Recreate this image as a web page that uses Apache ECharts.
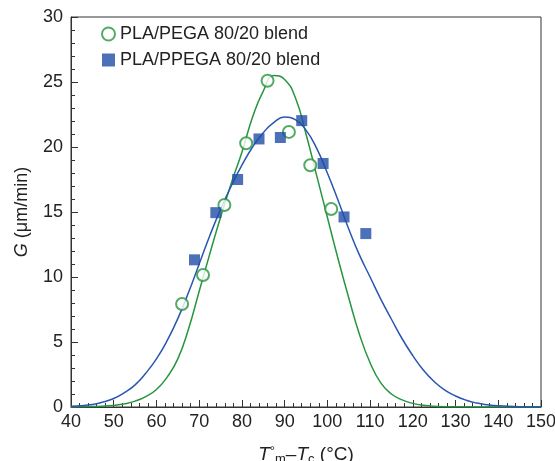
<!DOCTYPE html>
<html>
<head>
<meta charset="utf-8">
<script src="https://cdn.jsdelivr.net/npm/echarts@6/dist/echarts.min.js"></script>
<style>
html,body{margin:0;padding:0;background:#fff;}
#chart{width:555px;height:461px;}
</style>
</head>
<body>
<div id="chart"></div>
<script>
// Measured points
var pegaX = [66.0, 70.9, 75.9, 81.0, 86.0, 91.0, 96.0, 100.9];
var pegaY = [7.92, 10.15, 15.54, 20.29, 25.1, 21.16, 18.6, 15.23];
var ppegaX = [68.9, 73.9, 79.0, 84.0, 89.0, 94.0, 99.0, 103.9, 109.0];
var ppegaY = [11.32, 14.95, 17.5, 20.62, 20.73, 22.03, 18.73, 14.62, 13.34];

// Fitted curves
var pegaCurveX = [40, 45, 50, 52.5, 55, 57.5, 60, 62.5, 65, 67.5, 70, 72.5, 75, 77.5, 80, 82.5, 85, 87.5, 90, 92.5, 95, 97.5, 100, 102.5, 105, 107.5, 110, 112.5, 115, 117.5, 120, 122.5, 125, 130, 140, 150];
var pegaCurveY = [0, 0.03, 0.12, 0.24, 0.45, 0.8, 1.35, 2.3, 3.7, 6.0, 8.9, 11.8, 14.6, 17.2, 19.6, 22.3, 24.3, 25.5, 25.2, 23.8, 21.0, 17.8, 14.6, 11.4, 8.4, 5.6, 3.4, 1.85, 1.0, 0.55, 0.28, 0.13, 0.06, 0.01, 0, 0];
var ppegaCurveX = [40, 45, 47.5, 50, 52.5, 55, 57.5, 60, 62.5, 65, 67.5, 70, 72.5, 75, 77.5, 80, 82.5, 85, 87.5, 90, 92.5, 95, 97.5, 100, 102.5, 105, 107.5, 110, 112.5, 115, 117.5, 120, 122.5, 125, 127.5, 130, 132.5, 135, 137.5, 140, 145, 150];
var ppegaCurveY = [0.05, 0.2, 0.38, 0.65, 1.1, 1.7, 2.6, 3.7, 5.1, 6.8, 8.8, 11.0, 13.2, 15.2, 17.0, 18.6, 20.0, 21.1, 21.9, 22.3, 22.1, 21.3, 19.9, 18.0, 15.9, 13.7, 11.7, 10.0, 8.3, 6.75, 5.25, 3.95, 2.82, 1.95, 1.3, 0.85, 0.52, 0.3, 0.17, 0.09, 0.02, 0];

var seriesNames = ['PLA/PEGA 80/20 blend', 'PLA/PPEGA 80/20 blend'];
var xTitle = '{i|T}{sup|°}{sub|m}{n|–}{i|T}{sub|c}{n| (°C)}';
var yTitle = '{i|G}{n| (μm/min)}';

function zip(a, b) { return a.map(function (v, i) { return [v, b[i]]; }); }

var GREEN = '#27953f';
var BLUE = '#1f4ea6';
var BLUE_LINE = '#2856b0';
var FONT = 'Liberation Sans';

var chart = echarts.init(document.getElementById('chart'));
chart.setOption({
  animation: false,
  backgroundColor: '#fff',
  textStyle: { fontFamily: FONT },
  grid: {
    left: 71, right: 14, top: 17, bottom: 54,
    containLabel: false, outerBoundsMode: 'none',
    show: true, borderColor: '#333', borderWidth: 1
  },
  legend: {
    data: seriesNames,
    orient: 'vertical',
    left: 96, top: 20,
    itemWidth: 13, itemHeight: 13, itemGap: 8,
    textStyle: { fontFamily: FONT, fontSize: 18, color: '#222' }
  },
  xAxis: {
    type: 'value', min: 40, max: 150, interval: 10,
    axisLine: { show: true, onZero: false, lineStyle: { color: '#333', width: 1 } },
    axisTick: { show: true, inside: true, length: 7, lineStyle: { color: '#333' } },
    minorTick: { show: true, splitNumber: 5, length: 4, lineStyle: { color: '#333' } },
    splitLine: { show: false },
    axisLabel: { fontSize: 18, color: '#222', margin: 6, fontFamily: FONT },
    name: xTitle,
    nameLocation: 'middle', nameGap: 37,
    nameTextStyle: {
      fontSize: 18, color: '#222', fontFamily: FONT,
      rich: {
        i: { fontSize: 19, fontStyle: 'italic', color: '#222', fontFamily: FONT },
        n: { fontSize: 19, color: '#222', fontFamily: FONT },
        sub: { fontSize: 13, color: '#222', fontFamily: FONT, padding: [9, 0, 0, 0] },
        sup: { fontSize: 13, color: '#222', fontFamily: FONT, padding: [0, 0, 7, 0] }
      }
    }
  },
  yAxis: {
    type: 'value', min: 0, max: 30, interval: 5,
    axisLine: { show: true, lineStyle: { color: '#333', width: 1 } },
    axisTick: { show: true, inside: true, length: 7, lineStyle: { color: '#333' } },
    minorTick: { show: true, splitNumber: 5, length: 4, lineStyle: { color: '#333' } },
    splitLine: { show: false },
    axisLabel: { fontSize: 18, color: '#222', margin: 8, fontFamily: FONT },
    name: yTitle,
    nameLocation: 'middle', nameGap: 40,
    nameTextStyle: {
      fontSize: 18, color: '#222', fontFamily: FONT,
      rich: {
        i: { fontSize: 18, fontStyle: 'italic', color: '#222', fontFamily: FONT },
        n: { fontSize: 18, color: '#222', fontFamily: FONT }
      }
    }
  },
  series: [
    {
      name: 'pegaCurve', type: 'line', data: zip(pegaCurveX, pegaCurveY),
      showSymbol: false, smooth: 0.5, silent: true,
      lineStyle: { color: GREEN, width: 1.5 }, z: 2
    },
    {
      name: 'ppegaCurve', type: 'line', data: zip(ppegaCurveX, ppegaCurveY),
      showSymbol: false, smooth: 0.5, silent: true,
      lineStyle: { color: BLUE_LINE, width: 1.5 }, z: 2
    },
    {
      name: seriesNames[0], type: 'scatter', data: zip(pegaX, pegaY),
      symbol: 'emptyCircle', symbolSize: 12,
      itemStyle: { color: GREEN, borderWidth: 1.5 }, z: 4
    },
    {
      name: seriesNames[1], type: 'scatter', data: zip(ppegaX, ppegaY),
      symbol: 'rect', symbolSize: 11,
      itemStyle: { color: BLUE }, z: 5
    }
  ]
});
</script>
</body>
</html>
